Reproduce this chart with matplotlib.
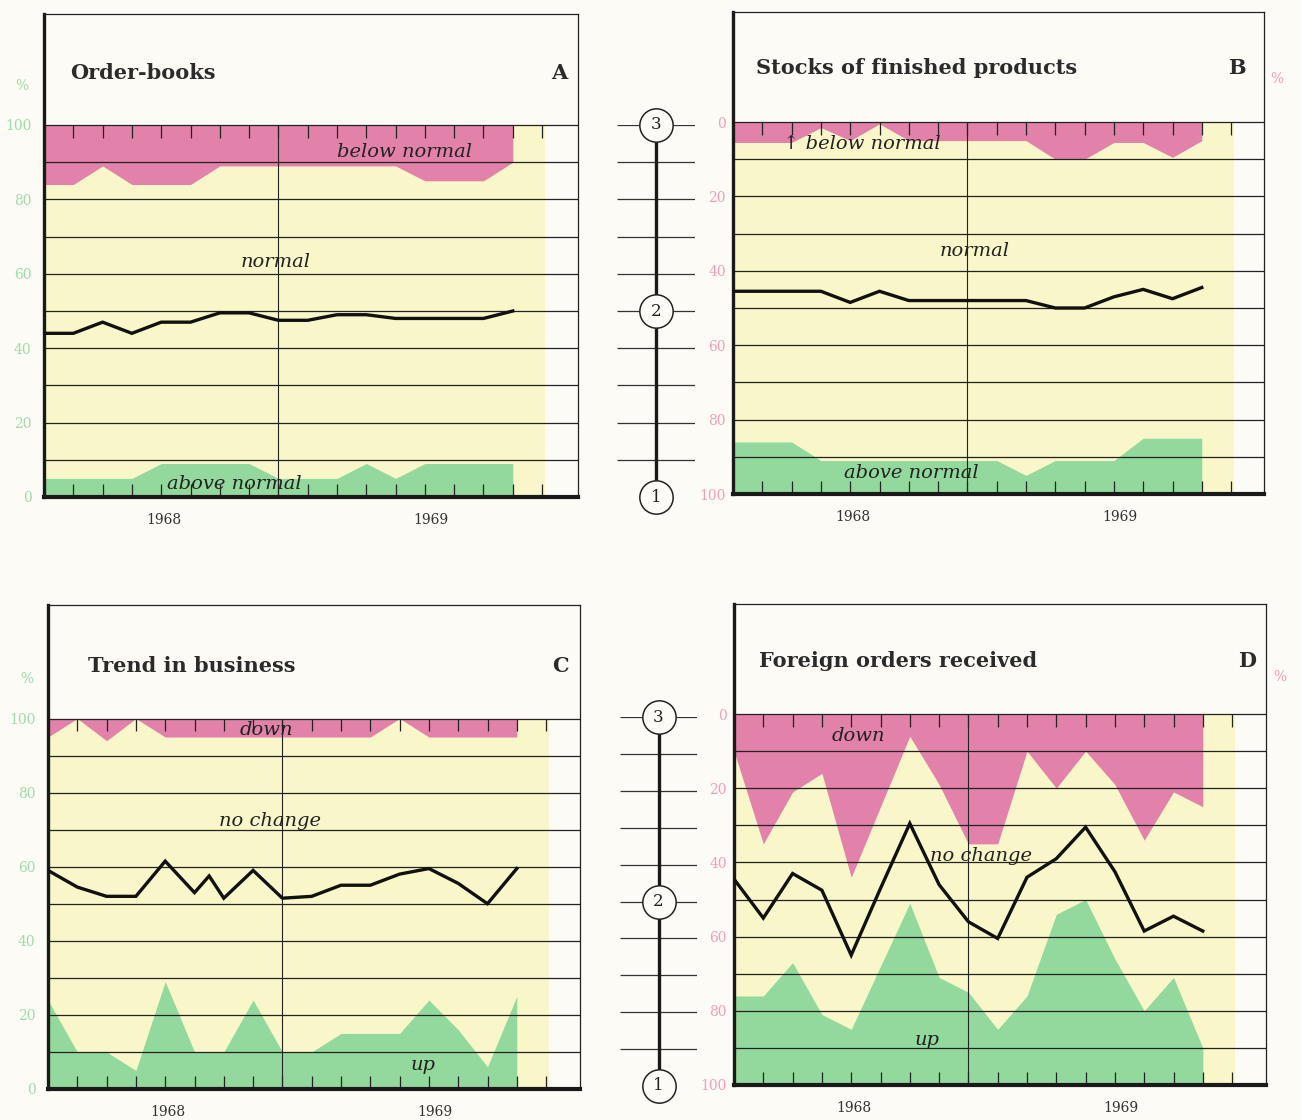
import numpy as np
import matplotlib.pyplot as plt

# monthly survey results, 17 months across 1968-69
MONTHS = list(range(17))

# A: order-books (% below normal / above normal, balance index 1-3)
A_BELOW = [16, 16, 11, 16, 16, 16, 11, 11, 11, 11, 11, 11, 11, 15, 15, 15, 10]
A_ABOVE = [5, 5, 5, 5, 9, 9, 9, 9, 5, 5, 5, 9, 5, 9, 9, 9, 9]
A_INDEX = [1.88, 1.88, 1.94, 1.88, 1.94, 1.94, 1.99, 1.99, 1.95, 1.95,
           1.98, 1.98, 1.96, 1.96, 1.96, 1.96, 2.00]

# B: stocks of finished products
B_BELOW = [5.5, 5.5, 5.5, 1.5, 5, 0.5, 5, 5, 5, 5, 5, 10, 10, 5.5, 5.5, 9.5, 5]
B_ABOVE = [14, 14, 14, 9, 9, 9, 9, 9, 9, 9, 5, 9, 9, 9, 15, 15, 15]
B_INDEX = [2.09, 2.09, 2.09, 2.09, 2.03, 2.09, 2.04, 2.04, 2.04, 2.04,
           2.04, 2.00, 2.00, 2.06, 2.10, 2.05, 2.11]

# C: trend in business (down / up)
C_DOWN = [5, 0, 6, 0, 5, 5, 5, 5, 5, 5, 5, 5, 0, 5, 5, 5, 5]
C_UP = [24, 10, 10, 5, 29, 10, 10, 24, 10, 10, 15, 15, 15, 24, 16, 6, 25]
C_LINE_X = [0, 1, 2, 3, 4, 5, 5.5, 6, 7, 8, 9, 10, 11, 12, 13, 14, 15, 16]
C_INDEX = [2.18, 2.09, 2.04, 2.04, 2.23, 2.06, 2.15, 2.03, 2.18, 2.03,
           2.04, 2.10, 2.10, 2.16, 2.19, 2.11, 2.00, 2.19]

# D: foreign orders received
D_DOWN = [10, 35, 21, 16, 44, 25, 6, 19, 35, 35, 10, 20, 10, 19, 34, 21, 25]
D_UP = [24, 24, 33, 19, 15, 32, 49, 29, 25, 15, 24, 46, 50, 34, 20, 29, 10]
D_INDEX = [2.11, 1.90, 2.14, 2.05, 1.70, 2.06, 2.41, 2.08, 1.88, 1.79,
           2.12, 2.22, 2.39, 2.15, 1.83, 1.91, 1.83]

YEARS = ["1968", "1969"]
YEAR_POS = [4.1, 13.2]
PCT_TICKS = [0, 20, 40, 60, 80, 100]
SCALE_LEVELS = [1, 2, 3]

W, H = 1301, 1120
MONTH_PX = 29.3
YELLOW_END = 17.1
TICK_LEN = 3.4

PAPER = "#fcfbf5"
YELLOW = "#f9f6c9"
PINK = "#e282aa"
GREEN = "#93d99d"
LIGHT_GREEN = "#9fdcaa"
LIGHT_PINK = "#f0a0bb"
INK = "#1a1a1a"
SERIF = ["DejaVu Serif", "DejaVu Sans"]

plt.rcParams["font.family"] = SERIF


def px_rect(l, t, r, b):
    return [l / W, 1 - b / H, (r - l) / W, (b - t) / H]


PANELS = [
    dict(box=(44, 14, 578, 497), plot_top=125, inverted=False,
         pink=A_BELOW, green=A_ABOVE, line_x=MONTHS, line=A_INDEX,
         title="Order-books", title_xy=(0.9, 114), letter="A", letter_x=17.6,
         pct_x=-0.041, pct_y=110.5,
         labels=[("below normal", 12.3, 92.7), ("normal", 7.9, 63.2),
                 ("above normal", 6.5, 3.4)]),
    dict(box=(733, 12, 1264, 494), plot_top=122, inverted=True,
         pink=B_BELOW, green=B_ABOVE, line_x=MONTHS, line=B_INDEX,
         title="Stocks of finished products", title_xy=(0.8, -14.5), letter="B", letter_x=17.2,
         pct_x=1.025, pct_y=-11.5,
         labels=[("\u2191 below normal", 4.4, 5.9), ("normal", 8.26, 34.7),
                 ("above normal", 6.1, 94.4)]),
    dict(box=(48, 605, 580, 1089), plot_top=718.5, inverted=False,
         pink=C_DOWN, green=C_UP, line_x=C_LINE_X, line=C_INDEX,
         title="Trend in business", title_xy=(1.37, 114.2), letter="C", letter_x=17.5,
         pct_x=-0.04, pct_y=110.7,
         labels=[("down", 7.44, 96.9), ("no change", 7.58, 72.3), ("up", 12.8, 6.4)]),
    dict(box=(734, 603.5, 1266, 1085), plot_top=714, inverted=True,
         pink=D_DOWN, green=D_UP, line_x=MONTHS, line=D_INDEX,
         title="Foreign orders received", title_xy=(0.85, -14.3), letter="D", letter_x=17.5,
         pct_x=1.026, pct_y=-10,
         labels=[("down", 4.23, 5.9), ("no change", 8.43, 38.3), ("up", 6.6, 87.9)]),
]

# middle 1-2-3 scales: (left, top, right, bottom) in pixels
SCALES = [(617, 125, 695, 497), (620, 717, 697, 1086)]

fig = plt.figure(figsize=(W / 100, H / 100), dpi=100)
fig.patch.set_facecolor(PAPER)

for p in PANELS:
    l, t, r, b = p["box"]
    ax = fig.add_axes(px_rect(l, t, r, b))
    ax.set_facecolor(PAPER)
    xmax = (r - l) / MONTH_PX
    extra = (p["plot_top"] - t) / (b - p["plot_top"]) * 100
    ax.set_xlim(0, xmax)
    inv = p["inverted"]
    if inv:
        ax.set_ylim(100, -extra)
        top, bot, sgn = 0, 100, 1
        pink_lo, pink_hi = np.zeros(len(MONTHS)), np.array(p["pink"])
        green_lo, green_hi = 100 - np.array(p["green"]), np.full(len(MONTHS), 100)
    else:
        ax.set_ylim(0, 100 + extra)
        top, bot, sgn = 100, 0, -1
        pink_lo, pink_hi = 100 - np.array(p["pink"]), np.full(len(MONTHS), 100)
        green_lo, green_hi = np.zeros(len(MONTHS)), np.array(p["green"])

    ax.fill_between([0, YELLOW_END], 0, 100, color=YELLOW, lw=0, zorder=0)
    ax.fill_between(MONTHS, pink_lo, pink_hi, color=PINK, lw=0, zorder=1)
    ax.fill_between(MONTHS, green_lo, green_hi, color=GREEN, lw=0, zorder=1)

    ax.hlines(np.arange(0, 101, 10), 0, xmax, color="#222222", lw=0.9, zorder=2)
    ticks_x = np.arange(1, 18)
    ax.vlines(ticks_x, top, top + sgn * TICK_LEN, color="#222222", lw=0.9, zorder=2)
    ax.vlines(ticks_x, bot, bot - sgn * TICK_LEN, color="#222222", lw=0.9, zorder=2)
    ax.vlines(8, 0, 100, color="#222222", lw=0.8, zorder=2)

    for s in ["top", "right"]:
        ax.spines[s].set_linewidth(0.9)
        ax.spines[s].set_color("#222222")
    ax.spines["left"].set_linewidth(2.4)
    ax.spines["bottom"].set_linewidth(3.0)
    ax.spines["left"].set_color(INK)
    ax.spines["bottom"].set_color(INK)

    ax.set_xticks([])
    ax.set_yticks(PCT_TICKS)
    ax.set_yticklabels([str(v) for v in PCT_TICKS])
    lab_col = LIGHT_PINK if inv else LIGHT_GREEN
    if inv:
        ax.yaxis.tick_right()
        ax.tick_params(axis="y", length=0, pad=5, labelsize=10, labelcolor=lab_col)
    else:
        ax.tick_params(axis="y", length=0, pad=9, labelsize=10, labelcolor=lab_col)
    ax.text(p["pct_x"], p["pct_y"], "%", transform=ax.get_yaxis_transform(),
            ha="center", va="center", fontsize=10, color=lab_col)

    ax.text(p["title_xy"][0], p["title_xy"][1], p["title"], fontsize=15,
            fontweight="bold", color="#2b2b2b", ha="left", va="center")
    ax.text(p["letter_x"], p["title_xy"][1], p["letter"], fontsize=15,
            fontweight="bold", color="#2b2b2b", ha="center", va="center")

    for txt, x, y in p["labels"]:
        ax.text(x, y, txt, fontsize=14, style="italic", color="#222222",
                ha="center", va="center", zorder=4)

    year_y = bot + sgn * 6.2
    for yr, x in zip(YEARS, YEAR_POS):
        ax.text(x, year_y, yr, fontsize=10, color="#333333",
                ha="center", va="center", clip_on=False)

    tw = ax.twinx()
    tw.set_ylim(1, 3 + 2 * extra / 100)
    tw.plot(p["line_x"], p["line"], color="#111111", lw=2.4, zorder=5,
            solid_joinstyle="miter")
    tw.axis("off")

for l, t, r, b in SCALES:
    sx = fig.add_axes(px_rect(l, t, r, b))
    sx.set_xlim(-1, 1)
    sx.set_ylim(1, 3)
    sx.axis("off")
    sx.hlines(np.arange(1.2, 3.01, 0.2), -1, 1, color="#333333", lw=0.9)
    sx.vlines(0, 1, 3, color=INK, lw=2.4)
    sx.plot([0] * len(SCALE_LEVELS), SCALE_LEVELS, "o", ms=24, mfc=PAPER,
            mec="#222222", mew=1.1, clip_on=False, zorder=3)
    for v in SCALE_LEVELS:
        sx.text(0, v, str(v), ha="center", va="center", fontsize=12,
                color="#222222", zorder=4)

fig.savefig("out.png", dpi=100, facecolor=PAPER)
